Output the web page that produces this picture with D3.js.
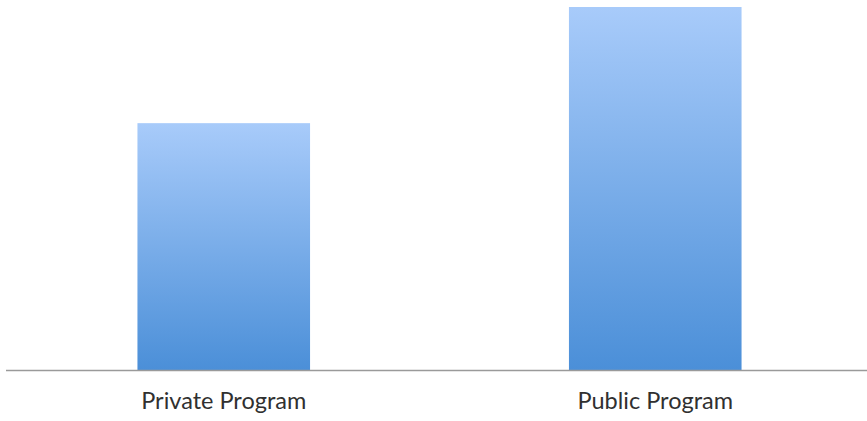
<!DOCTYPE html>
<html>
<head>
<meta charset="utf-8">
<script src="https://cdn.jsdelivr.net/npm/d3@7"></script>
<style>
  html, body { margin: 0; padding: 0; background: #ffffff; }
  svg { display: block; }
</style>
</head>
<body>
<svg id="chart" width="867" height="421"></svg>
<script>
// Enrollment by program type
const categories = ["Private Program", "Public Program"];
const values = [34, 50];

const width = 867, height = 421;
const margin = { top: 7, right: 0, bottom: 51, left: 8 };
const baseline = height - margin.bottom;

const svg = d3.select("#chart");

const defs = svg.append("defs");
const grad = defs.append("linearGradient")
  .attr("id", "barFill")
  .attr("x1", 0).attr("y1", 0).attr("x2", 0).attr("y2", 1);
grad.append("stop").attr("offset", "0%").attr("stop-color", "#a8cbfa");
grad.append("stop").attr("offset", "100%").attr("stop-color", "#4b8fd8");

const x = d3.scaleBand()
  .domain(categories)
  .range([margin.left, width - margin.right + 4])
  .paddingInner(0.6)
  .paddingOuter(0.3);

const y = d3.scaleLinear()
  .domain([0, d3.max(values)])
  .range([baseline, margin.top]);

svg.append("g")
  .selectAll("rect")
  .data(categories)
  .join("rect")
  .attr("x", d => x(d))
  .attr("y", (d, i) => y(values[i]))
  .attr("width", x.bandwidth())
  .attr("height", (d, i) => baseline - y(values[i]))
  .attr("fill", "url(#barFill)");

const xAxis = d3.axisBottom(x).tickSize(0);
const gx = svg.append("g")
  .attr("transform", `translate(0,${baseline})`)
  .call(xAxis);
gx.select(".domain")
  .attr("d", `M${6},0.5H${width}`)
  .attr("stroke", "#9a9a9a")
  .attr("stroke-width", 1.6);
gx.selectAll(".tick text")
  .attr("y", 39)
  .attr("dy", 0)
  .attr("fill", "#303030")
  .style("font-family", "Lato, 'Open Sans', sans-serif")
  .style("font-size", "23.5px");
</script>
</body>
</html>
